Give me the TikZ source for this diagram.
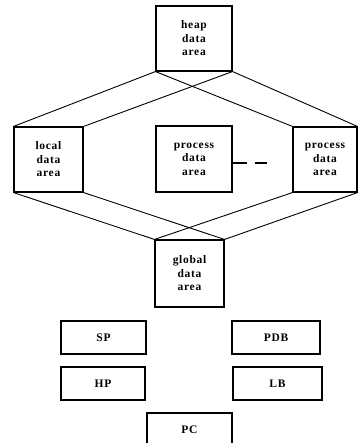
\documentclass[tikz,border=0pt]{standalone}
\usepackage{fontspec}
\newfontfamily\reffont[LetterSpace=6]{Liberation Serif}
\begin{document}
\begin{tikzpicture}[x=1pt,y=-1pt,
  box/.style={draw, line width=1.1pt, rectangle, inner sep=0pt, align=center,
    font=\reffont\bfseries\fontsize{11.5}{13.5}\selectfont},
  conn/.style={line width=0.9pt}]
\useasboundingbox (0,0) rectangle (358,443);
\node[box, minimum width=76pt, minimum height=65pt] (heap) at (194,38.5) {heap\\data\\area};
\node[box, minimum width=69pt, minimum height=65pt] (local) at (48.5,159.5) {local\\data\\area};
\node[box, minimum width=76pt, minimum height=66pt] (proc) at (194,159) {process\\data\\area};
\node[box, minimum width=64pt, minimum height=65pt] (rproc) at (325,159.5) {process\\data\\area};
\node[box, minimum width=69pt, minimum height=67pt] (global) at (189.5,273.5) {global\\data\\area};
\node[box, minimum width=85pt, minimum height=33pt] (sp) at (103.5,337.5) {SP};
\node[box, minimum width=88pt, minimum height=33pt] (pdb) at (276,337.5) {PDB};
\node[box, minimum width=84pt, minimum height=33pt] (hp) at (103,383.5) {HP};
\node[box, minimum width=89pt, minimum height=33pt] (lb) at (277.5,383.5) {LB};
\node[box, minimum width=85pt, minimum height=34pt] (pc) at (189.5,430) {PC};
% connectors heap -> areas
\draw[conn] (heap.south west) -- (local.north west);
\draw[conn] (heap.south west) -- (rproc.north west);
\draw[conn] (heap.south east) -- (local.north east);
\draw[conn] (heap.south east) -- (rproc.north east);
% areas -> global
\draw[conn] (local.south west) -- (global.north west);
\draw[conn] (local.south east) -- (global.north east);
\draw[conn] (rproc.south west) -- (global.north west);
\draw[conn] (rproc.south east) -- (global.north east);
% dashes
\coordinate (d1) at (231,163);
\coordinate (d2) at (247,163);
\coordinate (d3) at (255,163);
\coordinate (d4) at (267,163);
\draw[line width=1.3pt] (d1) -- (d2);
\draw[line width=1.3pt] (d3) -- (d4);
\end{tikzpicture}
\end{document}
